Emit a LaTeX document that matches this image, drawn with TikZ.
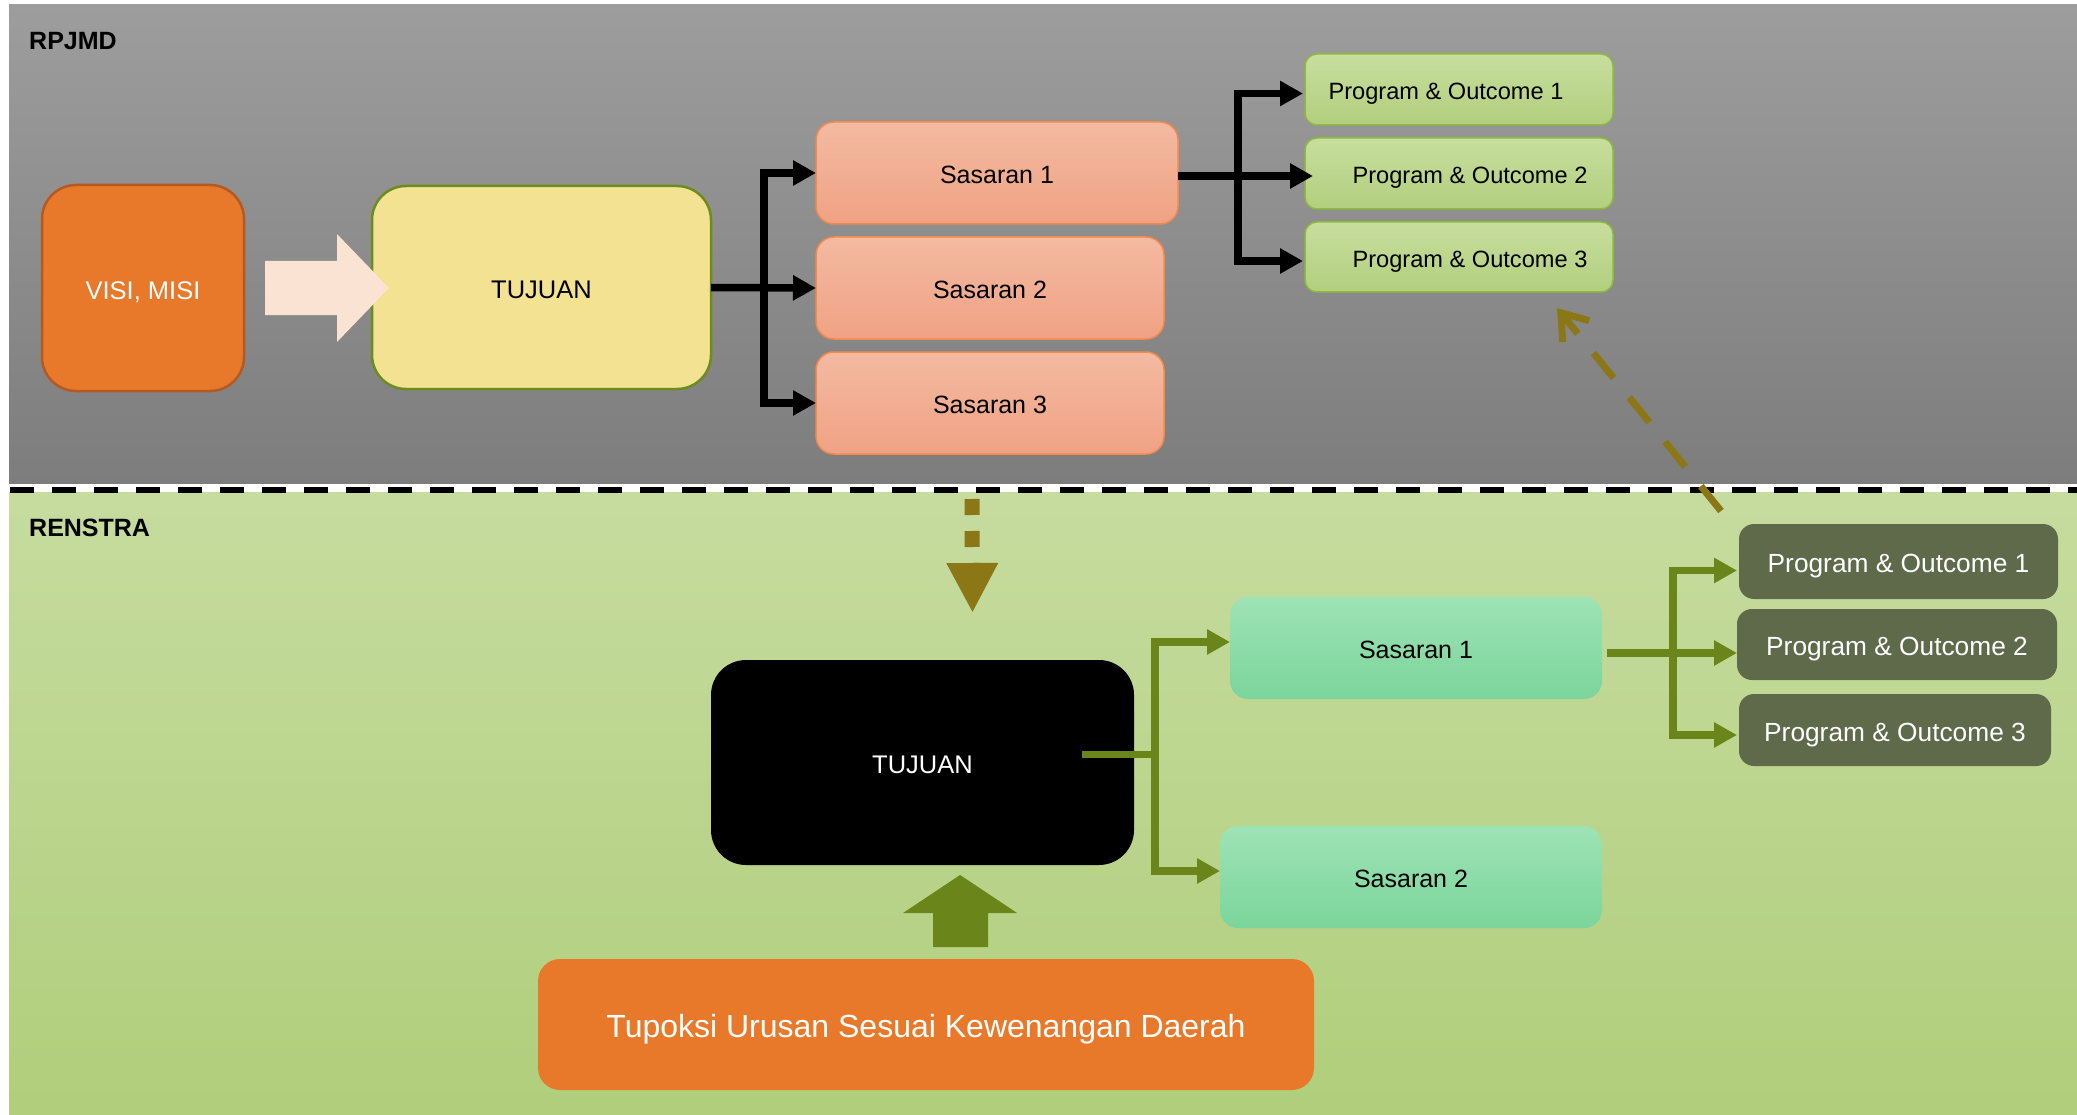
\documentclass[tikz,border=0pt]{standalone}
\usepackage{fontspec}
\setmainfont{Liberation Sans}
\usetikzlibrary{arrows.meta,calc}

\definecolor{grayTop}{HTML}{9D9D9D}
\definecolor{grayBot}{HTML}{7D7D7D}
\definecolor{greenTop}{HTML}{C6DC9F}
\definecolor{greenBot}{HTML}{B0CE7B}
\definecolor{orangeMain}{HTML}{E8792B}
\definecolor{orangeDark}{HTML}{B4591F}
\definecolor{peach}{HTML}{FAE3D3}
\definecolor{sandFill}{HTML}{F2E291}
\definecolor{oliveLine}{HTML}{6C8C1E}
\definecolor{salmonTop}{HTML}{F3BAA2}
\definecolor{salmonBot}{HTML}{F0A283}
\definecolor{salmonLine}{HTML}{F28A4C}
\definecolor{limeTop}{HTML}{C7DE9E}
\definecolor{limeBot}{HTML}{B2CF7E}
\definecolor{limeLine}{HTML}{8DBA3C}
\definecolor{mintTop}{HTML}{9EE3B5}
\definecolor{mintBot}{HTML}{7BD59B}
\definecolor{mossFill}{HTML}{5F6A4B}
\definecolor{leafGreen}{HTML}{6A861A}
\definecolor{ochre}{HTML}{8B7716}

\begin{document}
\begin{tikzpicture}[x=1pt,y=-1pt,
  >={Triangle[width=24pt,length=23pt]},
  box/.style={rounded corners=#1, inner sep=0pt, outer sep=0pt, align=center,
    text depth=0pt},
  % caps sit a touch below the middle of each box
  fsize/.style={font=\fontsize{#1}{#1}\selectfont, text height={0.716*#1pt+4pt}},
  bigbox/.style={box=34pt, minimum width=#1},
  goalbox/.style={box=18pt, draw=salmonLine, line width=1.5pt,
    top color=salmonTop, bottom color=salmonBot, fsize=25, minimum height=102pt},
  progbox/.style={box=12pt, draw=limeLine, line width=1.5pt,
    top color=limeTop, bottom color=limeBot, fsize=23.6, minimum width=308pt},
  mintbox/.style={box=18pt, top color=mintTop, bottom color=mintBot,
    fsize=25, minimum height=102pt},
  mossbox/.style={box=15pt, fill=mossFill, text=white, fsize=26.3},
  blackconn/.style={draw=black, line width=7.5pt},
  greenconn/.style={draw=leafGreen, line width=7.5pt},
  sectionlabel/.style={anchor=west, inner sep=0pt, font=\bfseries\fontsize{25}{25}\selectfont}
]
\useasboundingbox (0,0) rectangle (2077,1115);
\fill[white] (0,0) rectangle (2077,1115);

% the two bands and the dashed divider
\shade[top color=grayTop, bottom color=grayBot] (9,5) rectangle (2077,483);
\shade[top color=greenTop, bottom color=greenBot] (9,492) rectangle (2077,1115);
\draw[black, line width=6pt, dash pattern=on 24pt off 18pt] (10,489.5) -- (2077,489.5);

\node[sectionlabel] (lblA) at (29,41) {RPJMD};
\node[sectionlabel] (lblB) at (29,528) {RENSTRA};

% upper band
\node[bigbox=202pt, minimum height=206pt, fill=orangeMain, draw=orangeDark,
  line width=2.5pt, text=white, fsize=25.5] (visi) at (143,288) {VISI, MISI};
\node[bigbox=339pt, minimum height=203pt, fill=sandFill, draw=oliveLine,
  line width=2.5pt, fsize=25.5] (tuj1) at (541.5,287.5) {TUJUAN};

\node[goalbox, minimum width=362pt] (s1) at (997,173) {Sasaran 1};
\node[goalbox, minimum width=348pt] (s2) at (990,288) {Sasaran 2};
\node[goalbox, minimum width=348pt] (s3) at (990,403) {Sasaran 3};

\node[progbox, minimum height=71pt] (po1) at (1459,89.5) {\hspace*{-26pt}Program \& Outcome 1};
\node[progbox, minimum height=71pt] (po2) at (1459,173.5) {\hspace*{22pt}Program \& Outcome 2};
\node[progbox, minimum height=70pt] (po3) at (1459,257) {\hspace*{22pt}Program \& Outcome 3};

% block arrow from VISI, MISI into TUJUAN
\fill[peach] ($(visi.east)+(21,-27)$) -- ++(72,0) -- ++(0,-27) -- ++(52,54)
  -- ++(-52,54) -- ++(0,-27) -- ++(-72,0) -- cycle;

% black forks
\draw[blackconn, <->] (s1.west) -| ($(tuj1.east)+(53,0)$) |- (s3.west);
\draw[blackconn, ->] (tuj1.east) -- (s2.west);
\draw[blackconn, <->] ($(po1.west)+(-2,4)$) -| ($(s1.east)+(60,3)$) |- ($(po3.west)+(-2,4)$);
\draw[blackconn, ->] ($(s1.east)+(0,3)$) -- ($(po2.west)+(8,2.5)$);

% lower band
\node[box=35pt, fill=black, text=white, fsize=25.5, minimum width=423pt,
  minimum height=205pt] (tuj2) at (922.5,762.5) {TUJUAN};
\node[mintbox, minimum width=372pt] (rs1) at (1416,648) {Sasaran 1};
\node[mintbox, minimum width=382pt] (rs2) at (1411,877) {Sasaran 2};

\node[mossbox, minimum width=319pt, minimum height=75pt] (rpo1) at (1898.5,561.5) {Program \& Outcome 1};
\node[mossbox, minimum width=320pt, minimum height=71pt] (rpo2) at (1897,644.5) {Program \& Outcome 2};
\node[mossbox, minimum width=312pt, minimum height=72pt] (rpo3) at (1895,730) {Program \& Outcome 3};

\node[box=22pt, fill=orangeMain, text=white, fsize=32, minimum width=776pt,
  minimum height=131pt] (tup) at (926,1024.5) {Tupoksi Urusan Sesuai Kewenangan Daerah};

% block arrow from Tupoksi up to TUJUAN
\fill[leafGreen] ($(tup.north)+(7,-12)$) -- ++(55,0) -- ++(0,-34) -- ++(29,0)
  -- ++(-57,-38) -- ++(-57,38) -- ++(30,0) -- cycle;

% green forks
\draw[greenconn] ($(tuj2.east)+(-52,-8)$) -- ($(tuj2.east)+(21,-8)$);
\draw[greenconn, <->] ($(rs1.west)+(0,-6)$) -| ($(tuj2.east)+(21,-8)$) |- ($(rs2.west)+(0,-6)$);
\draw[greenconn, <->] ($(rpo1.west)+(-2,9)$) -| ($(rs1.east)+(71,5)$) |- ($(rpo3.west)+(-2,5)$);
\draw[greenconn, ->] ($(rs1.east)+(5,5)$) -- ($(rpo2.west)+(0,8.5)$);

% dashed links between the bands
\draw[ochre, line width=15pt, dash pattern=on 16pt off 16pt,
  -{Triangle[width=48pt,length=50pt]}]
  ($(s3.south)+(-18,45)$) -- ($(tuj2.north)+(50,-47)$);
\draw[ochre, line width=7pt, dash pattern=on 32pt off 25pt,
  -{Straight Barb[length=24pt,width=34pt]}]
  ($(rpo1.north west)+(-18,-13)$) -- ($(po3.south east)+(-56,16)$);
\end{tikzpicture}
\end{document}
